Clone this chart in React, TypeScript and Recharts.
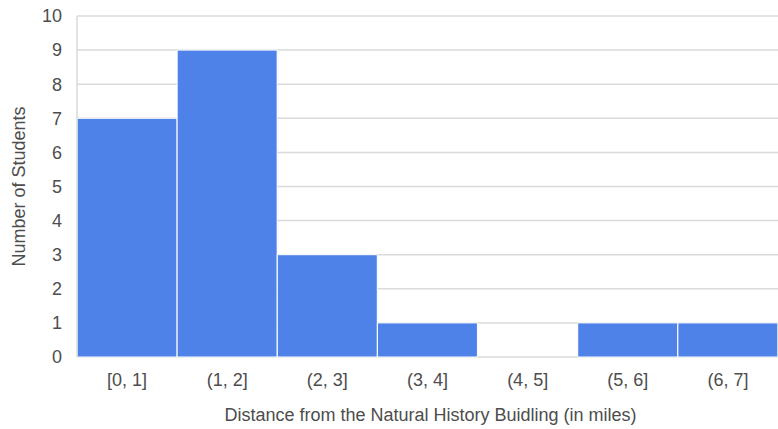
import { BarChart, Bar, XAxis, YAxis, CartesianGrid } from "recharts";

const bins = ["[0, 1]", "(1, 2]", "(2, 3]", "(3, 4]", "(4, 5]", "(5, 6]", "(6, 7]"];
const students = [7, 9, 3, 1, 0, 1, 1];
const yTicks = [0, 1, 2, 3, 4, 5, 6, 7, 8, 9, 10];

const data = bins.map((b, i) => ({ bin: b, students: students[i] }));

const font = "'Liberation Sans', Arial, sans-serif";
const ink = "#4d4d4d";

export default function App() {
  return (
    <div style={{ position: "fixed", left: 0, top: 0, width: 778, height: 429, background: "#fff", fontFamily: font }}>
      <BarChart width={778} height={429} data={data} barCategoryGap={0}
        margin={{ top: 16, right: 0, bottom: 0, left: 0 }}>
        <CartesianGrid vertical={false} stroke="#dadada" strokeWidth={1.5} />
        <XAxis dataKey="bin" axisLine={false} tickLine={false} height={72} tickMargin={10}
          tick={{ fill: ink, fontSize: 18, fontFamily: font }}
          label={{ value: "Distance from the Natural History Buidling (in miles)", position: "insideBottom", offset: 8, dx: 3, fill: ink, fontSize: 18, fontFamily: font }} />
        <YAxis domain={[0, 10]} ticks={yTicks} interval={0} width={77} tickLine={false} tickMargin={9}
          axisLine={{ stroke: "#dadada", strokeWidth: 1.5 }}
          tick={{ fill: ink, fontSize: 18, fontFamily: font }}
          label={{ value: "Number of Students", angle: -90, position: "insideLeft", offset: 19, fill: ink, fontSize: 18, fontFamily: font, style: { textAnchor: "middle" } }} />
        <Bar dataKey="students" fill="#4f82e8" stroke="#ffffff" strokeWidth={1} isAnimationActive={false} />
      </BarChart>
    </div>
  );
}
